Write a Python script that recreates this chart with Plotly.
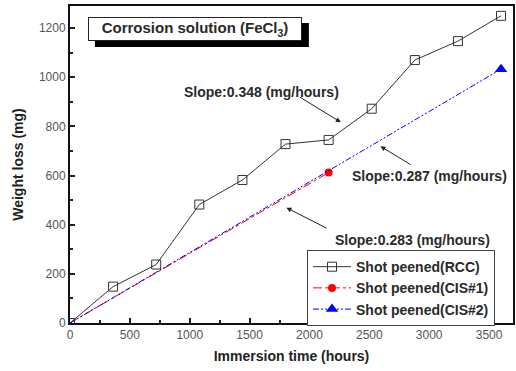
import plotly.graph_objects as go

# ---- data ----
rcc_x = [0, 360, 720, 1080, 1440, 1800, 2160, 2520, 2880, 3240, 3600]
rcc_y = [0, 148, 238, 482, 582, 728, 745, 872, 1070, 1147, 1250]
cis1_x = [0, 2160]
cis1_y = [0, 612]
cis2_x = [0, 3600]
cis2_y = [0, 1033]

series_names = ["Shot peened(RCC)", "Shot peened(CIS#1)", "Shot peened(CIS#2)"]
box_title = "Corrosion solution (FeCl<sub>3</sub>)"
x_title = "Immersion time (hours)"
y_title = "Weight loss (mg)"

# slope labels: (text, text_x, text_y, tail_x, tail_y, tip_x, tip_y)
slope_labels = [
    ("Slope:0.348 (mg/hours)", 1600, 940, 1907, 923, 2262, 817),
    ("Slope:0.287 (mg/hours)", 3000, 597, 2857, 641, 2593, 719),
    ("Slope:0.283 (mg/hours)", 2860, 338, 2155, 383, 1808, 469),
]

FONT = "Liberation Sans, Arial, sans-serif"
LABEL_FONT = dict(family=FONT, size=14, color="#2a2a2a", weight="bold")

fig = go.Figure()
fig.add_trace(go.Scatter(
    x=rcc_x, y=rcc_y, name=series_names[0], mode="lines+markers",
    line=dict(color="#333333", width=1),
    marker=dict(symbol="square-open", size=9, color="#333333", line=dict(width=1))))
# CIS#1: line from origin (no legend) + end marker (legend entry)
fig.add_trace(go.Scatter(
    x=cis1_x, y=cis1_y, mode="lines", showlegend=False, legendgroup="c1",
    line=dict(color="#ff0000", width=1, dash="dashdot"), hoverinfo="skip"))
fig.add_trace(go.Scatter(
    x=cis1_x[-1:], y=cis1_y[-1:], name=series_names[1], mode="lines+markers", legendgroup="c1",
    line=dict(color="#ff0000", width=1, dash="dashdot"),
    marker=dict(symbol="circle", size=8, color="#ff0000")))
# CIS#2
fig.add_trace(go.Scatter(
    x=cis2_x, y=cis2_y, mode="lines", showlegend=False, legendgroup="c2",
    line=dict(color="#0000ff", width=1, dash="6px,2px,2px,2px,2px,2px"), hoverinfo="skip"))
fig.add_trace(go.Scatter(
    x=cis2_x[-1:], y=cis2_y[-1:], name=series_names[2], mode="lines+markers", legendgroup="c2",
    line=dict(color="#0000ff", width=1, dash="6px,2px,2px,2px,2px,2px"),
    marker=dict(symbol="triangle-up", size=11, color="#0000ff")))

annotations = []
for txt, tx, ty, ax, ay, px, py in slope_labels:
    annotations.append(dict(x=tx, y=ty, xref="x", yref="y", text=txt, showarrow=False,
                            font=LABEL_FONT))
    annotations.append(dict(x=px, y=py, ax=ax, ay=ay, xref="x", yref="y", axref="x", ayref="y",
                            text="", showarrow=True, arrowhead=2, arrowsize=1, arrowwidth=1,
                            arrowcolor="#222222"))

# title box (white box with border) over a black drop shadow
annotations.append(dict(x=(0.0427 + 0.5236) / 2, y=(0.8896 + 0.9653) / 2, xref="paper", yref="paper",
                        text=box_title, showarrow=False, width=212, height=22,
                        bgcolor="white", bordercolor="#222222", borderwidth=1, borderpad=0,
                        xanchor="center", yanchor="middle",
                        font=dict(family=FONT, size=15, color="#2a2a2a", weight="bold")))

shapes = [
    dict(type="rect", xref="paper", yref="paper", x0=0.0562, x1=0.5393, y0=0.8707, y1=0.9464,
         fillcolor="black", line=dict(width=0), layer="above"),
]

fig.update_layout(
    width=516, height=371,
    margin=dict(l=70, r=1, t=6, b=48),
    paper_bgcolor="white", plot_bgcolor="white",
    font=dict(family=FONT, color="#333333"),
    showlegend=True,
    legend=dict(x=0.535, y=0.23, xanchor="left", yanchor="top",
                bordercolor="#444444", borderwidth=1, bgcolor="white",
                font=LABEL_FONT, tracegroupgap=0, itemwidth=38,
                entrywidth=155, entrywidthmode="pixels"),
    annotations=annotations,
    shapes=shapes,
)
fig.update_xaxes(
    range=[0, 3700], tickvals=[0, 500, 1000, 1500, 2000, 2500, 3000, 3500],
    ticks="inside", ticklen=5, tickwidth=1.5, tickcolor="#222222",
    minor=dict(ticks="inside", ticklen=3, dtick=250, tickcolor="#222222"),
    showline=True, linecolor="#111111", linewidth=2, mirror=True,
    showgrid=False, zeroline=False,
    tickfont=dict(family=FONT, size=12, color="#555555"),
    title=dict(text="<b>" + x_title + "</b>", font=dict(family=FONT, size=14, color="#222222"), standoff=10),
)
fig.update_yaxes(
    range=[0, 1290], tickvals=[0, 200, 400, 600, 800, 1000, 1200],
    ticks="inside", ticklen=5, tickwidth=1.5, tickcolor="#222222",
    minor=dict(ticks="inside", ticklen=3, dtick=100, tickcolor="#222222"),
    showline=True, linecolor="#111111", linewidth=2, mirror=True,
    showgrid=False, zeroline=False,
    tickfont=dict(family=FONT, size=12, color="#555555"),
    title=dict(text="<b>" + y_title + "</b>", font=dict(family=FONT, size=14, color="#222222"), standoff=12),
)

fig.write_html("out.html")
